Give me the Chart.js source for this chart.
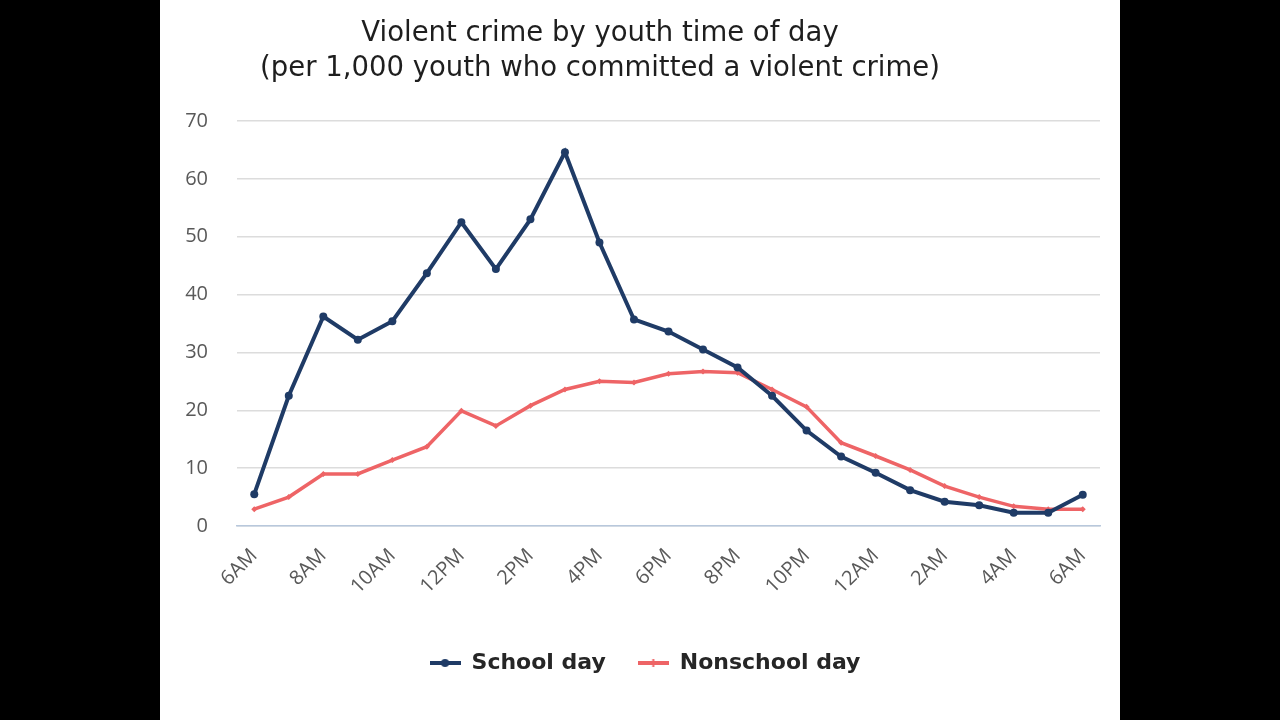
<!DOCTYPE html>
<html>
<head>
<meta charset="utf-8">
<script src="https://cdn.jsdelivr.net/npm/chart.js@4.4.1/dist/chart.umd.min.js"></script>
<style>
  html, body { margin: 0; padding: 0; background: #000; }
  #page { position: absolute; left: 160px; top: 0; width: 960px; height: 720px; background: #fff; }
  #title {
    position: absolute; left: 0; top: 14px; width: 880px; text-align: center;
    font-family: "DejaVu Sans", sans-serif; font-size: 27.5px; line-height: 35px; color: #1e1e1e;
  }
  #chartBox { position: absolute; left: 0; top: 0; width: 960px; height: 720px; }
</style>
</head>
<body>
<div id="page">
  <div id="chartBox"><canvas id="crimeChart"></canvas></div>
  <div id="title">Violent crime by youth time of day<br>(per 1,000 youth who committed a violent crime)</div>
</div>
<script>
const hours = ["6AM", "7AM", "8AM", "9AM", "10AM", "11AM", "12PM", "1PM", "2PM", "3PM", "4PM", "5PM",
               "6PM", "7PM", "8PM", "9PM", "10PM", "11PM", "12AM", "1AM", "2AM", "3AM", "4AM", "5AM", "6AM"];
const schoolDay = [5.5, 22.5, 36.2, 32.2, 35.4, 43.7, 52.5, 44.4, 53.0, 64.6, 49.0, 35.7,
                   33.6, 30.5, 27.4, 22.5, 16.5, 12.0, 9.2, 6.2, 4.2, 3.6, 2.3, 2.3, 5.4];
const nonschoolDay = [2.9, 5.0, 9.0, 9.0, 11.4, 13.7, 19.9, 17.3, 20.8, 23.6, 25.0, 24.8,
                      26.3, 26.7, 26.5, 23.6, 20.6, 14.4, 12.1, 9.7, 6.9, 5.0, 3.4, 2.9, 2.9];
const yTicks = [0, 10, 20, 30, 40, 50, 60, 70];

const navy = "#1f3b66";
const coral = "#ee6466";

// legend marker: a short line with a dot in the middle
function legendMarker(color, dot) {
    const c = document.createElement("canvas");
    c.width = 31; c.height = 12;
    const g = c.getContext("2d");
    g.fillStyle = color;
    g.fillRect(0, 4, 31, 4);
    if (dot) {
        g.beginPath();
        g.arc(15.5, 6, 4, 0, Math.PI * 2);
        g.fill();
    } else {
        g.fillRect(14.5, 2, 2, 8);
    }
    return c;
}

// nudge the legend a little to the right, like the original
const legendShift = {
    id: "legendShift",
    afterLayout(chart) {
        chart.legend.left += 15;
        chart.legend.right += 15;
    }
};

const ctx = document.getElementById("crimeChart").getContext("2d");
new Chart(ctx, {
    type: "line",
    data: {
        labels: hours,
        datasets: [
            { label: "School day", data: schoolDay, borderColor: navy, backgroundColor: navy,
              borderWidth: 4, pointRadius: 4, pointHoverRadius: 4, pointBorderWidth: 0, tension: 0 },
            { label: "Nonschool day", data: nonschoolDay, borderColor: coral, backgroundColor: coral,
              borderWidth: 3.5, pointStyle: "rectRot", pointRadius: 3, pointBorderWidth: 0, tension: 0 }
        ]
    },
    plugins: [legendShift],
    options: {
        responsive: true,
        maintainAspectRatio: false,
        animation: false,
        layout: { padding: { top: 121, right: 20, bottom: 36, left: 0 } },
        plugins: {
            title: { display: false },
            tooltip: { enabled: false },
            legend: {
                position: "bottom",
                labels: {
                    usePointStyle: true,
                    pointStyleWidth: 31,
                    padding: 32,
                    color: "#262626",
                    font: { family: "DejaVu Sans", size: 22, weight: "bold" },
                    generateLabels: chart => chart.data.datasets.map((ds, i) => ({
                        text: ds.label,
                        fontColor: "#262626",
                        pointStyle: legendMarker(ds.borderColor, i === 0),
                        lineWidth: 0,
                        datasetIndex: i
                    }))
                }
            }
        },
        scales: {
            x: {
                offset: true,
                grid: { display: false },
                border: { color: "#b8c8dc", width: 1.5 },
                afterFit: scale => { scale.height = 94; },
                ticks: {
                    autoSkip: false,
                    maxRotation: 45,
                    minRotation: 45,
                    padding: 10,
                    color: "#595959",
                    font: { family: "Open Sans", size: 20 },
                    callback: (value, index) => index % 2 === 0 ? hours[index] : ""
                }
            },
            y: {
                min: 0,
                max: 70,
                afterFit: scale => { scale.width = 77; },
                afterBuildTicks: scale => { scale.ticks = yTicks.map(v => ({ value: v })); },
                grid: { color: "#dcdcdc", lineWidth: 1.5, drawTicks: false },
                border: { display: false },
                ticks: {
                    padding: 29,
                    color: "#595959",
                    font: { family: "Open Sans", size: 20 }
                }
            }
        }
    }
});
</script>
</body>
</html>
